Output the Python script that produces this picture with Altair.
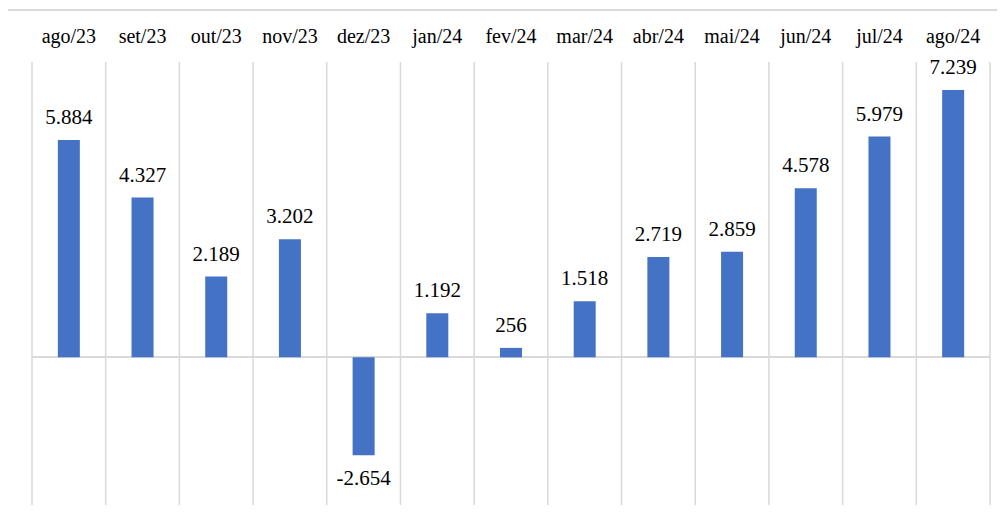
import altair as alt
import pandas as pd

categories = ["ago/23", "set/23", "out/23", "nov/23", "dez/23", "jan/24", "fev/24",
              "mar/24", "abr/24", "mai/24", "jun/24", "jul/24", "ago/24"]
values = [5884, 4327, 2189, 3202, -2654, 1192, 256, 1518, 2719, 2859, 4578, 5979, 7239]
labels = [f"{v:,}".replace(",", ".") for v in values]

df = pd.DataFrame({"cat": categories, "val": values, "lab": labels})
edges = pd.DataFrame({"edge": list(range(len(categories) + 1))})

W, H = 958, 443
FONT = "Liberation Serif, Times New Roman, serif"
GRID = "#d9d9d9"

x = alt.X("cat:N", sort=categories,
          scale=alt.Scale(paddingInner=0, paddingOuter=0),
          axis=alt.Axis(orient="top", title=None, domain=False, ticks=False,
                        grid=False, labelAngle=0, labelFont=FONT, labelFontSize=20,
                        labelColor="#000000", labelPadding=16))
y = alt.Y("val:Q", scale=alt.Scale(domain=[-4000, 8000], nice=False, zero=True), axis=None)

grid = alt.Chart(edges).mark_rule(color=GRID, strokeWidth=1.5).encode(
    x=alt.X("edge:Q", scale=alt.Scale(domain=[0, len(categories)], nice=False), axis=None),
    y=alt.value(0), y2=alt.value(H))

base = alt.Chart(df)

zero = base.mark_rule(color=GRID, strokeWidth=1.5).encode(
    x=alt.value(0), x2=alt.value(W), y=alt.Y("z:Q", scale=alt.Scale(domain=[-4000, 8000], nice=False), axis=None)
).transform_calculate(z="0")
border_left = base.mark_rule(color=GRID, strokeWidth=1.5).encode(
    x=alt.value(-26), y=alt.value(-52), y2=alt.value(480))
border_top = base.mark_rule(color=GRID, strokeWidth=1.5).encode(
    x=alt.value(-26), x2=alt.value(1000), y=alt.value(-52))

bars = base.mark_bar(color="#4472C4", size=22).encode(x=x, y=y, y2=alt.Y2("base:Q")).transform_calculate(base="0")

pos_lab = base.transform_filter("datum.val >= 0").mark_text(
    font=FONT, fontSize=21, color="#000000", baseline="middle", dy=-22).encode(
    x=x, y=y, text="lab:N")
neg_lab = base.transform_filter("datum.val < 0").mark_text(
    font=FONT, fontSize=21, color="#000000", baseline="middle", dy=24).encode(
    x=x, y=y, text="lab:N")

main = alt.layer(zero, border_left, border_top, bars, pos_lab, neg_lab)

chart = alt.layer(grid, main).resolve_scale(x="independent").properties(
    width=W, height=H,
    autosize=alt.AutoSizeParams(type="none"),
    padding={"left": 24, "top": 54, "right": 7, "bottom": 14},
).configure_view(stroke=None)

chart.save("out.html", embed_options={"renderer": "svg", "actions": False})
